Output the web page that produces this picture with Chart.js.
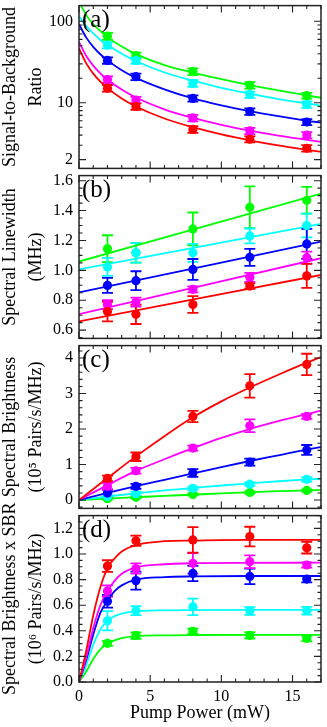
<!DOCTYPE html>
<html><head><meta charset="utf-8">
<script src="https://cdn.jsdelivr.net/npm/chart.js@4.4.1/dist/chart.umd.min.js"></script>
<style>
html,body{margin:0;padding:0;background:#fff;width:327px;height:727px;overflow:hidden;position:relative}
canvas{position:absolute;left:0}
</style></head><body>
<canvas id="ca" width="327" height="194" style="top:-10px"></canvas>
<canvas id="cb" width="327" height="194" style="top:160px"></canvas>
<canvas id="cc" width="327" height="194" style="top:330px"></canvas>
<canvas id="cd" width="327" height="227" style="top:500px"></canvas>
<script>
// ---------- DATA ----------
const pumpPower = [2, 4, 8, 12, 16];
const xTickLabels = [0, 5, 10, 15];

// (a) Signal-to-Background Ratio
const sbrRed     = [15.1, 9.0, 4.7, 3.56, 2.76];
const sbrMagenta = [19.3, 10.8, 6.5, 4.5, 4.0];
const sbrBlue    = [33.1, 20.9, 11.3, 7.8, 5.8];
const sbrCyan    = [51, 33.1, 17.3, 12.6, 9.5];
const sbrGreen   = [65.7, 37.9, 24.1, 16.4, 12.2];
const sbrErrRed     = [1.4, 0.8, 0.45, 0.3, 0.25];
const sbrErrMagenta = [1.8, 1.0, 0.6, 0.4, 0.35];
const sbrErrBlue    = [3.0, 1.9, 1.0, 0.7, 0.5];
const sbrErrCyan    = [4.6, 3.0, 1.6, 1.1, 0.85];
const sbrErrGreen   = [6.5, 3.4, 2.3, 1.5, 1.0];
const fitPowerA = [0, 0.5, 1, 1.5, 2, 3, 4, 6, 8, 10, 12, 14, 16, 17];
const sbrFitRed     = [46.6, 30.6, 22.8, 18.2, 15.1, 11.3, 9.0, 6.4, 5.0, 4.08, 3.45, 2.99, 2.64, 2.49];
const sbrFitMagenta = [56, 37.8, 28.6, 23, 19.3, 14.5, 11.6, 8.3, 6.5, 5.35, 4.55, 3.95, 3.5, 3.3];
const sbrFitBlue    = [92, 63.5, 48.6, 39.4, 33.1, 25.1, 20.2, 14.6, 11.3, 9.3, 7.9, 6.85, 6.0, 5.7];
const sbrFitCyan    = [115, 88, 71, 59, 51, 40, 32.5, 23.5, 18.7, 15.2, 12.9, 11.1, 9.8, 9.2];
const sbrFitGreen   = [175, 120, 92, 76, 64, 49, 39.5, 29, 23.5, 19.5, 16.5, 14.2, 12.3, 11.5];
const sbrTicks = [2, 10, 100];

// (b) Spectral Linewidth (MHz)
const lwRed     = [0.724, 0.706, 0.771, 0.895, 0.963];
const lwMagenta = [0.771, 0.788, 0.873, 0.953, 1.085];
const lwBlue    = [0.899, 0.931, 1.006, 1.087, 1.177];
const lwCyan    = [1.023, 1.117, 1.117, 1.23, 1.30];
const lwGreen   = [1.145, 1.117, 1.277, 1.422, 1.469];
const lwErrRed     = [0.065, 0.065, 0.056, 0.018, 0.08];
const lwErrMagenta = [0.03, 0.03, 0.02, 0.03, 0.04];
const lwErrBlue    = [0.05, 0.063, 0.07, 0.057, 0.1];
const lwErrCyan    = [0.06, 0.065, 0.06, 0.05, 0.08];
const lwErrGreen   = [0.09, 0.065, 0.11, 0.14, 0.09];
const fitPowerB = [0, 17];
const lwFitRed     = [0.658, 0.969];
const lwFitMagenta = [0.707, 1.081];
const lwFitBlue    = [0.852, 1.192];
const lwFitCyan    = [1.006, 1.311];
const lwFitGreen   = [1.059, 1.514];
const lwTicks = [0.6, 0.8, 1.0, 1.2, 1.4, 1.6];

// (c) Spectral Brightness (1e5 pairs/s/MHz)
const sbRed     = [0.61, 1.22, 2.354, 3.217, 3.82];
const sbMagenta = [0.386, 0.826, 1.464, 2.093, 2.354];
const sbBlue    = [0.197, 0.386, 0.763, 1.068, 1.41];
const sbCyan    = [0.1, 0.18, 0.33, 0.448, 0.583];
const sbGreen   = [0.04, 0.08, 0.16, 0.215, 0.27];
const sbErrRed     = [0.08, 0.12, 0.16, 0.33, 0.3];
const sbErrMagenta = [0.1, 0.08, 0.07, 0.18, 0.07];
const sbErrBlue    = [0.1, 0.07, 0.11, 0.1, 0.14];
const sbErrCyan    = [0.06, 0.05, 0.05, 0.05, 0.06];
const sbErrGreen   = [0.03, 0.03, 0.03, 0.03, 0.03];
const fitPowerC = [0, 2, 4, 6, 8, 10, 12, 14, 16, 17];
const sbFitRed     = [0, 0.62, 1.23, 1.8, 2.33, 2.78, 3.17, 3.53, 3.87, 4.03];
const sbFitMagenta = [0, 0.42, 0.82, 1.15, 1.46, 1.75, 2.0, 2.22, 2.42, 2.52];
const sbFitBlue    = [0, 0.2, 0.39, 0.57, 0.75, 0.93, 1.1, 1.26, 1.42, 1.49];
const sbFitCyan    = [0, 0.1, 0.19, 0.27, 0.34, 0.41, 0.47, 0.53, 0.58, 0.6];
const sbFitGreen   = [0, 0.04, 0.08, 0.12, 0.15, 0.19, 0.22, 0.25, 0.27, 0.285];
const sbTicks = [0, 1, 2, 3, 4];

// (d) Spectral Brightness x SBR (1e6 pairs/s/MHz)
const sxRed     = [0.906, 1.103, 1.11, 1.136, 1.049];
const sxMagenta = [0.71, 0.886, 0.927, 0.94, 0.914];
const sxBlue    = [0.631, 0.792, 0.848, 0.825, 0.804];
const sxCyan    = [0.478, 0.557, 0.587, 0.554, 0.557];
const sxGreen   = [0.302, 0.363, 0.396, 0.365, 0.34];
const sxErrRed     = [0.045, 0.04, 0.1, 0.077, 0.045];
const sxErrMagenta = [0.045, 0.04, 0.08, 0.05, 0.02];
const sxErrBlue    = [0.05, 0.07, 0.06, 0.06, 0.025];
const sxErrCyan    = [0.075, 0.035, 0.065, 0.03, 0.03];
const sxErrGreen   = [0.02, 0.025, 0.02, 0.025, 0.02];
const fitPowerD = [0, 0.5, 1, 1.5, 2, 2.5, 3, 4, 6, 8, 12, 17];
const sxFitRed     = [0, 0.24, 0.52, 0.74, 0.89, 0.965, 1.02, 1.07, 1.1, 1.105, 1.11, 1.11];
const sxFitMagenta = [0, 0.19, 0.42, 0.6, 0.71, 0.79, 0.845, 0.895, 0.92, 0.928, 0.931, 0.932];
const sxFitBlue    = [0, 0.17, 0.37, 0.54, 0.635, 0.71, 0.755, 0.8, 0.82, 0.825, 0.828, 0.828];
const sxFitCyan    = [0, 0.13, 0.29, 0.41, 0.48, 0.515, 0.535, 0.552, 0.56, 0.562, 0.563, 0.563];
const sxFitGreen   = [0, 0.08, 0.18, 0.255, 0.3, 0.325, 0.342, 0.358, 0.365, 0.367, 0.368, 0.368];
const sxTicks = [0, 0.2, 0.4, 0.6, 0.8, 1.0, 1.2];

// ---------- STYLE ----------
const FONT = '"Liberation Serif", "Times New Roman", serif';
const COLORS = ['#ff0000', '#ff00ff', '#0000ff', '#00ffff', '#00ff00'];

function pts(xs, ys) { return xs.map((x, i) => ({ x: x, y: ys[i] })); }

function buildDatasets(values, errors, fitX, fits) {
  const ds = [];
  values.forEach((v, i) => ds.push({
    data: pts(pumpPower, v), errors: errors[i],
    backgroundColor: COLORS[i], borderColor: COLORS[i],
    pointRadius: 4.6, pointBorderWidth: 0, pointHoverRadius: 4.6, showLine: false
  }));
  fits.forEach((f, i) => ds.push({
    data: pts(fitX, f), borderColor: COLORS[i], backgroundColor: COLORS[i],
    borderWidth: 1.8, pointRadius: 0, pointHoverRadius: 0, showLine: true,
    cubicInterpolationMode: 'monotone', fill: false
  }));
  return ds;
}

const errorBars = {
  id: 'errorBars',
  beforeDatasetsDraw(chart) {
    const ctx = chart.ctx, a = chart.chartArea, x = chart.scales.x, y = chart.scales.y;
    ctx.save();
    ctx.beginPath(); ctx.rect(a.left, a.top, a.right - a.left, a.bottom - a.top); ctx.clip();
    for (let d = chart.data.datasets.length - 1; d >= 0; d--) {
      const ds = chart.data.datasets[d];
      if (!ds.errors) continue;
      ctx.strokeStyle = ds.borderColor; ctx.lineWidth = 1.8;
      ds.data.forEach((p, i) => {
        const e = ds.errors[i];
        const px = x.getPixelForValue(p.x);
        const lo = y.getPixelForValue(p.y - e), hi = y.getPixelForValue(p.y + e);
        ctx.beginPath();
        ctx.moveTo(px, lo); ctx.lineTo(px, hi);
        ctx.moveTo(px - 5.5, lo); ctx.lineTo(px + 5.5, lo);
        ctx.moveTo(px - 5.5, hi); ctx.lineTo(px + 5.5, hi);
        ctx.stroke();
      });
    }
    ctx.restore();
  }
};

const frame = {
  id: 'frame',
  afterDraw(chart, args, opts) {
    const ctx = chart.ctx, a = chart.chartArea, x = chart.scales.x, y = chart.scales.y;
    ctx.save();
    ctx.strokeStyle = '#222'; ctx.lineWidth = 1.1;
    ctx.beginPath();
    for (let v = 0; v <= 17; v += 1) {
      const px = x.getPixelForValue(v);
      const len = xTickLabels.includes(v) ? 7 : 3.5;
      ctx.moveTo(px, a.bottom); ctx.lineTo(px, a.bottom - len);
      ctx.moveTo(px, a.top); ctx.lineTo(px, a.top + len);
    }
    const yt = [];
    opts.minor.forEach(v => yt.push([v, 3.5]));
    opts.major.forEach(v => yt.push([v, 7]));
    yt.forEach(([v, len]) => {
      const py = y.getPixelForValue(v);
      if (py < a.top - 0.5 || py > a.bottom + 0.5) return;
      ctx.moveTo(a.left, py); ctx.lineTo(a.left + len, py);
      ctx.moveTo(a.right, py); ctx.lineTo(a.right - len, py);
    });
    ctx.stroke();
    ctx.lineWidth = 1.5;
    ctx.strokeRect(a.left, a.top, a.right - a.left, a.bottom - a.top);
    ctx.fillStyle = '#000';
    ctx.font = '25px ' + FONT;
    ctx.textBaseline = 'alphabetic';
    ctx.fillText(opts.label, a.left + 3, a.top + 21.5);
    ctx.restore();
  }
};

function linMinor(min, max, step) {
  const out = [];
  for (let k = Math.ceil(min / step); k * step <= max + 1e-9; k++) out.push(k * step);
  return out;
}
function logMinor(min, max) {
  const out = [];
  for (let e = -1; e <= 3; e++) for (let k = 1; k <= 9; k++) {
    const v = k * Math.pow(10, e);
    if (v >= min && v <= max) out.push(v);
  }
  return out;
}

function makePanel(id, p) {
  const showX = !!p.showX;
  new Chart(document.getElementById(id), {
    type: 'scatter',
    data: { datasets: buildDatasets(p.values, p.errors, p.fitX, p.fits) },
    options: {
      responsive: false, animation: false, events: [],
      layout: { padding: { top: 12, bottom: showX ? 0 : 12, left: 0, right: 6 } },
      plugins: {
        legend: { display: false }, tooltip: { enabled: false },
        frame: { label: p.label, major: p.ticks, minor: p.minor }
      },
      scales: {
        x: {
          type: 'linear', min: 0, max: 17, display: showX,
          grid: { display: false, drawTicks: false }, border: { display: false },
          afterBuildTicks: s => { s.ticks = xTickLabels.map(v => ({ value: v })); },
          afterFit: s => { s.height = showX ? 45 : 0; },
          ticks: { font: { family: FONT, size: 16 }, color: '#000', padding: 5, autoSkip: false, maxRotation: 0 },
          title: { display: true, text: 'Pump Power (mW)', font: { family: FONT, size: 18 }, color: '#000', padding: { top: 0, bottom: 3 } }
        },
        y: {
          type: p.yType, min: p.min, max: p.max,
          grid: { display: false, drawTicks: false }, border: { display: false },
          afterBuildTicks: s => { s.ticks = p.ticks.map(v => ({ value: v })); },
          afterFit: s => { s.width = 79; },
          ticks: { font: { family: FONT, size: 16 }, color: '#000', padding: 6, autoSkip: false,
                   callback: p.fmt },
          title: { display: true, text: p.title, font: { family: FONT, size: 18, lineHeight: 1.4 }, color: '#000', padding: { top: -2, bottom: 0 } }
        }
      }
    },
    plugins: [errorBars, frame]
  });
}

makePanel('ca', {
  label: '(a)', yType: 'logarithmic', min: 1.56, max: 156, ticks: sbrTicks, minor: logMinor(1.56, 156),
  fmt: v => String(v), title: ['Signal-to-Background', 'Ratio'],
  values: [sbrRed, sbrMagenta, sbrBlue, sbrCyan, sbrGreen],
  errors: [sbrErrRed, sbrErrMagenta, sbrErrBlue, sbrErrCyan, sbrErrGreen],
  fitX: fitPowerA, fits: [sbrFitRed, sbrFitMagenta, sbrFitBlue, sbrFitCyan, sbrFitGreen]
});
makePanel('cb', {
  label: '(b)', yType: 'linear', min: 0.5446, max: 1.634, ticks: lwTicks, minor: linMinor(0.5446, 1.634, 0.05),
  fmt: v => Number(v).toFixed(1), title: ['Spectral Linewidth', '(MHz)'],
  values: [lwRed, lwMagenta, lwBlue, lwCyan, lwGreen],
  errors: [lwErrRed, lwErrMagenta, lwErrBlue, lwErrCyan, lwErrGreen],
  fitX: fitPowerB, fits: [lwFitRed, lwFitMagenta, lwFitBlue, lwFitCyan, lwFitGreen]
});
makePanel('cc', {
  label: '(c)', yType: 'linear', min: -0.235, max: 4.35, ticks: sbTicks, minor: linMinor(-0.235, 4.35, 0.2),
  fmt: v => String(v), title: ['Spectral Brightness', '(10\u2075 Pairs/s/MHz)'],
  values: [sbRed, sbMagenta, sbBlue, sbCyan, sbGreen],
  errors: [sbErrRed, sbErrMagenta, sbErrBlue, sbErrCyan, sbErrGreen],
  fitX: fitPowerC, fits: [sbFitRed, sbFitMagenta, sbFitBlue, sbFitCyan, sbFitGreen]
});
makePanel('cd', {
  label: '(d)', yType: 'linear', min: 0, max: 1.3, ticks: sxTicks, minor: linMinor(0, 1.3, 0.05),
  fmt: v => Number(v).toFixed(1), title: ['Spectral Brightness x SBR', '(10\u2076 Pairs/s/MHz)'],
  showX: true,
  values: [sxRed, sxMagenta, sxBlue, sxCyan, sxGreen],
  errors: [sxErrRed, sxErrMagenta, sxErrBlue, sxErrCyan, sxErrGreen],
  fitX: fitPowerD, fits: [sxFitRed, sxFitMagenta, sxFitBlue, sxFitCyan, sxFitGreen]
});
</script>
</body></html>
